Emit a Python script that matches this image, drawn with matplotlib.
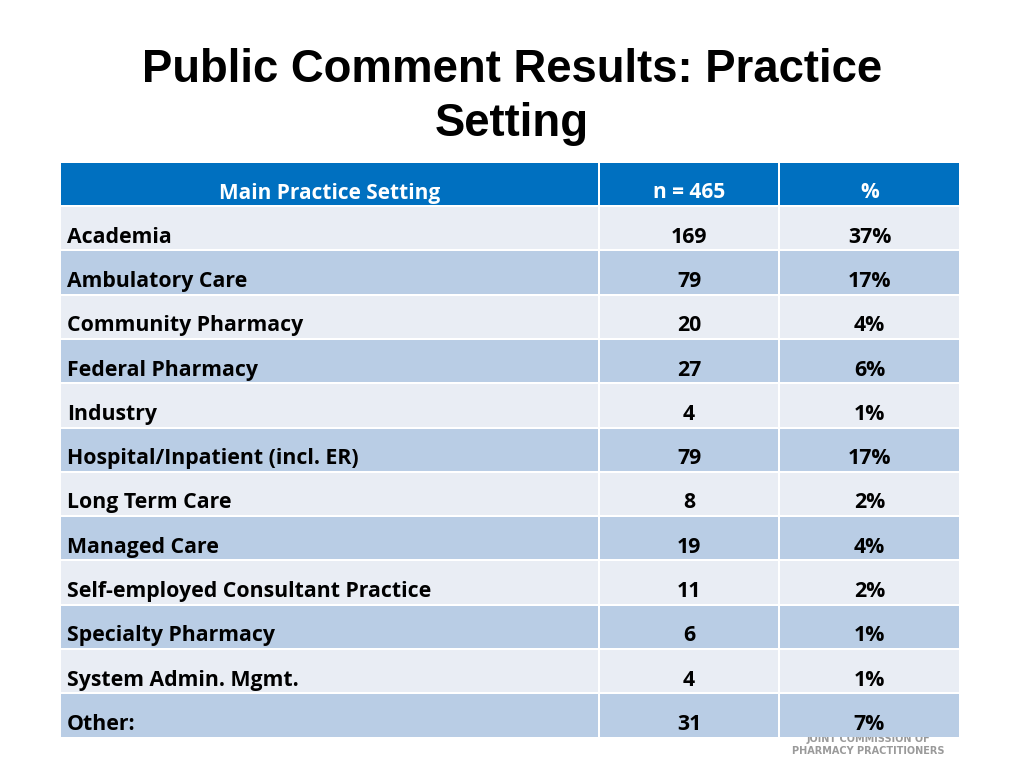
import matplotlib.pyplot as plt
from matplotlib.patches import Rectangle

settings = ["Academia", "Ambulatory Care", "Community Pharmacy", "Federal Pharmacy",
            "Industry", "Hospital/Inpatient (incl. ER)", "Long Term Care", "Managed Care",
            "Self-employed Consultant Practice", "Specialty Pharmacy",
            "System Admin. Mgmt.", "Other:"]
counts = [169, 79, 20, 27, 4, 79, 8, 19, 11, 6, 4, 31]
percents = [37, 17, 4, 6, 1, 17, 2, 4, 2, 1, 1, 7]
headers = ["Main Practice Setting", "n = 465", "%"]

fig = plt.figure(figsize=(10.24, 7.68), dpi=100)
ax = fig.add_axes([0, 0, 1, 1])
ax.set_xlim(0, 1024)
ax.set_ylim(768, 0)
ax.axis("off")

ax.text(512, 70, "Public Comment Results: Practice", ha="center", va="center",
        fontsize=32.8, fontweight="bold", family="Liberation Sans", color="black")
ax.text(512, 124, "Setting", ha="center", va="center",
        fontsize=32.8, fontweight="bold", family="Liberation Sans", color="black")

# logo text partly hidden behind the table
ax.text(868, 739, "JOINT COMMISSION OF", ha="center", va="center", fontsize=7,
        color="#9a9a9a", fontweight="bold", zorder=0)
ax.text(868, 751, "PHARMACY PRACTITIONERS", ha="center", va="center", fontsize=7,
        color="#9a9a9a", fontweight="bold", zorder=0)

col_x = [60, 599, 779, 960]
top, head_h, row_h = 162, 44, 44.3
gap = 1

def cell(x0, x1, y0, h, color):
    ax.add_patch(Rectangle((x0 + gap, y0 + gap), x1 - x0 - 2 * gap, h - 2 * gap,
                           facecolor=color, edgecolor="none", zorder=2))

for c in range(3):
    cell(col_x[c], col_x[c + 1], top, head_h, "#0070C0")
    ax.text((col_x[c] + col_x[c + 1]) / 2, top + head_h / 2 + 9, headers[c],
            ha="center", va="center", fontsize=15, fontweight="bold",
            color="white", family="Open Sans", zorder=3)

for i, name in enumerate(settings):
    y0 = top + head_h + i * row_h
    color = "#E9EDF4" if i % 2 == 0 else "#B9CDE5"
    for c in range(3):
        cell(col_x[c], col_x[c + 1], y0, row_h, color)
    yc = y0 + row_h / 2 + 9
    kw = dict(va="center", fontsize=15.3, fontweight="bold", color="black",
              family="Open Sans", zorder=3)
    ax.text(67, yc, name, ha="left", **kw)
    ax.text((col_x[1] + col_x[2]) / 2, yc, str(counts[i]), ha="center", **kw)
    ax.text((col_x[2] + col_x[3]) / 2, yc, f"{percents[i]}%", ha="center", **kw)

fig.savefig("out.png", dpi=100)
